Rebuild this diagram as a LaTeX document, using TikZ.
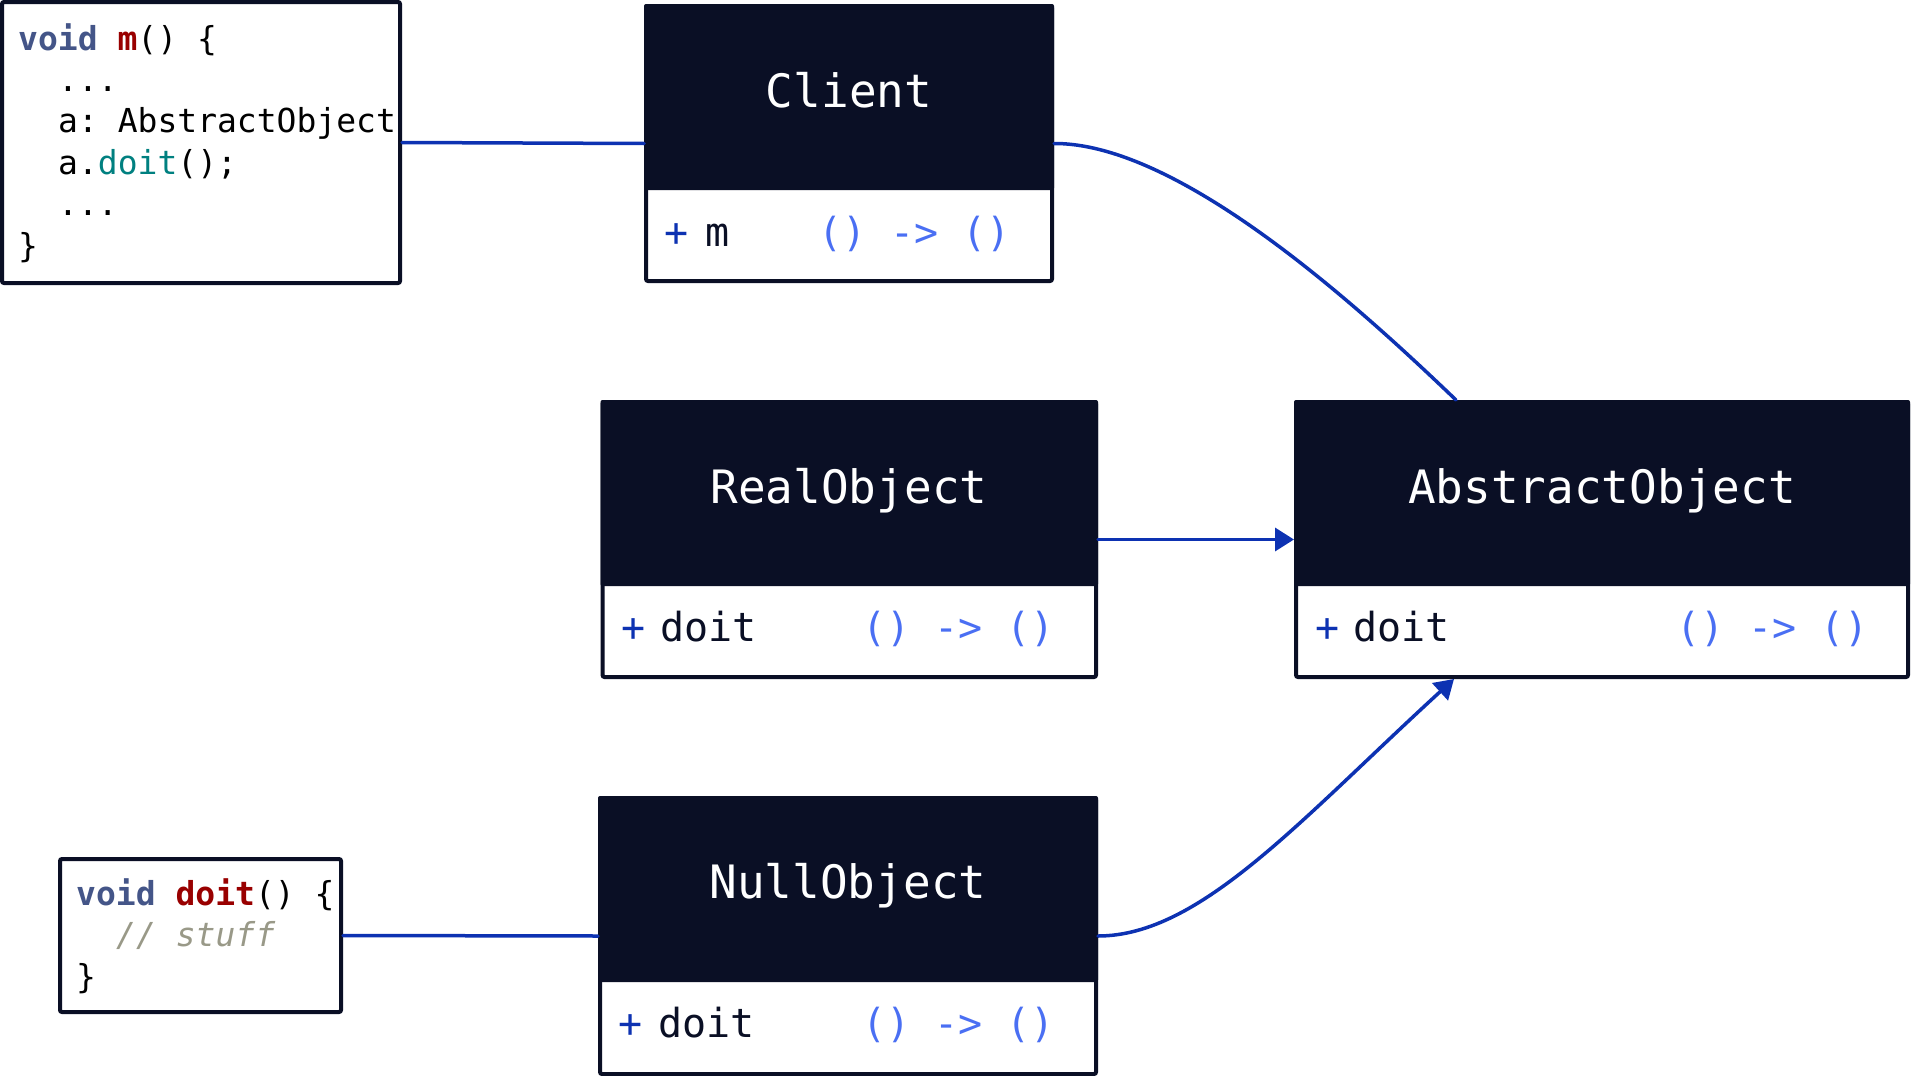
\documentclass[tikz,border=0pt]{standalone}
\usepackage{fontspec}
\setmonofont{DejaVu Sans Mono}
\usetikzlibrary{arrows.meta,calc}
\definecolor{hdr}{HTML}{0A0F25}
\definecolor{edgec}{HTML}{0D32B2}
\definecolor{typc}{HTML}{4A6FF3}
\definecolor{kwc}{HTML}{445588}
\definecolor{fnc}{HTML}{990000}
\definecolor{attrc}{HTML}{008080}
\definecolor{cmtc}{HTML}{999988}
\begin{document}
\begin{tikzpicture}[x=1pt,y=-1pt,
  classbox/.style={draw=hdr,fill=white,line width=4pt,rounded corners=2pt,inner sep=0pt},
  codebox/.style={draw=hdr,fill=white,line width=4pt,rounded corners=2pt,inner sep=0pt},
  hdrtext/.style={text=white,font=\ttfamily\fontsize{46}{55}\selectfont,anchor=base,inner sep=0pt},
  visib/.style={text=edgec,font=\ttfamily\fontsize{40}{48}\selectfont,anchor=base west,inner sep=0pt},
  mname/.style={text=hdr,font=\ttfamily\fontsize{40}{48}\selectfont,anchor=base west,inner sep=0pt},
  mtype/.style={text=typc,font=\ttfamily\fontsize{40}{48}\selectfont,anchor=base west,inner sep=0pt},
  codeline/.style={text=black,font=\ttfamily\fontsize{33}{40}\selectfont,anchor=base west,inner sep=0pt},
  conn/.style={draw=edgec,line width=3.5pt,line cap=round},
  tipped/.style={-{Triangle[length=19pt,width=23pt]}}
]
\useasboundingbox (0,0) rectangle (1912,1076);

% ---- boxes ----
\node[codebox,minimum width=398pt,minimum height=281pt] (code1) at (201,142.5) {};
\node[classbox,minimum width=406pt,minimum height=275pt] (client) at (849,143.5) {};
\node[classbox,minimum width=493.5pt,minimum height=275pt] (real) at (849.25,539.5) {};
\node[classbox,minimum width=612pt,minimum height=275pt] (abstract) at (1602,539.5) {};
\node[classbox,minimum width=496pt,minimum height=276pt] (null) at (848,936) {};
\node[codebox,minimum width=281pt,minimum height=153pt] (code2) at (200.5,935.5) {};

% ---- headers ----
\coordinate (hc) at (0,190);
\coordinate (hr) at (0,586);
\coordinate (hn) at (0,982);
\fill[hdr,rounded corners=2pt] (client.north west) rectangle (client.east |- hc);
\fill[hdr,rounded corners=2pt] (real.north west) rectangle (real.east |- hr);
\fill[hdr,rounded corners=2pt] (abstract.north west) rectangle (abstract.east |- hr);
\fill[hdr,rounded corners=2pt] (null.north west) rectangle (null.east |- hn);

\node[hdrtext] (clientT) at (849,107) {Client};
\node[hdrtext] (realT) at (849,503) {RealObject};
\node[hdrtext] (abstractT) at (1602,503) {AbstractObject};
\node[hdrtext] (nullT) at (848,898) {NullObject};

% ---- methods ----
\node[visib] (clientV) at (664,246) {+};
\node[mname] (clientM) at (705,246) {m};
\node[mtype] (clientY) at (818,246) {() -> ()};

\node[visib] (realV) at (621,641) {+};
\node[mname] (realM) at (660,641) {doit};
\node[mtype] (realY) at (862,641) {() -> ()};

\node[visib] (abstractV) at (1315,641) {+};
\node[mname] (abstractM) at (1353,641) {doit};
\node[mtype] (abstractY) at (1676,641) {() -> ()};

\node[visib] (nullV) at (618,1037) {+};
\node[mname] (nullM) at (658,1037) {doit};
\node[mtype] (nullY) at (862,1037) {() -> ()};

% ---- code 1 ----
\node[codeline] (c1a) at (18,50) {{\color{kwc}\bfseries void} {\color{fnc}\bfseries m}() \{};
\node[codeline] (c1b) at (58,91.4) {...};
\node[codeline] (c1c) at (58,132.8) {a: AbstractObject};
\node[codeline] (c1d) at (58,174) {a.{\color{attrc}doit}();};
\node[codeline] (c1e) at (58,215) {...};
\node[codeline] (c1f) at (18,257) {\}};

% ---- code 2 ----
\node[codeline] (c2a) at (76,905) {{\color{kwc}\bfseries void} {\color{fnc}\bfseries doit}() \{};
\node[codeline,text=cmtc] (c2b) at (116,946.5) {\itshape // stuff};
\node[codeline] (c2c) at (76,988) {\}};

% ---- connectors ----
\draw[conn] (code1.east) -- (client.west);
\draw[conn] (client.east) .. controls (1180,143) and (1360,308) .. ([xshift=162pt]abstract.north west);
\draw[conn,tipped] (real.east) -- (abstract.west);
\draw[conn] (code2.east) -- (null.west);
\draw[conn,tipped] (null.east) .. controls (1200,936) and (1300,820) .. ([xshift=160pt]abstract.south west);
\end{tikzpicture}
\end{document}
